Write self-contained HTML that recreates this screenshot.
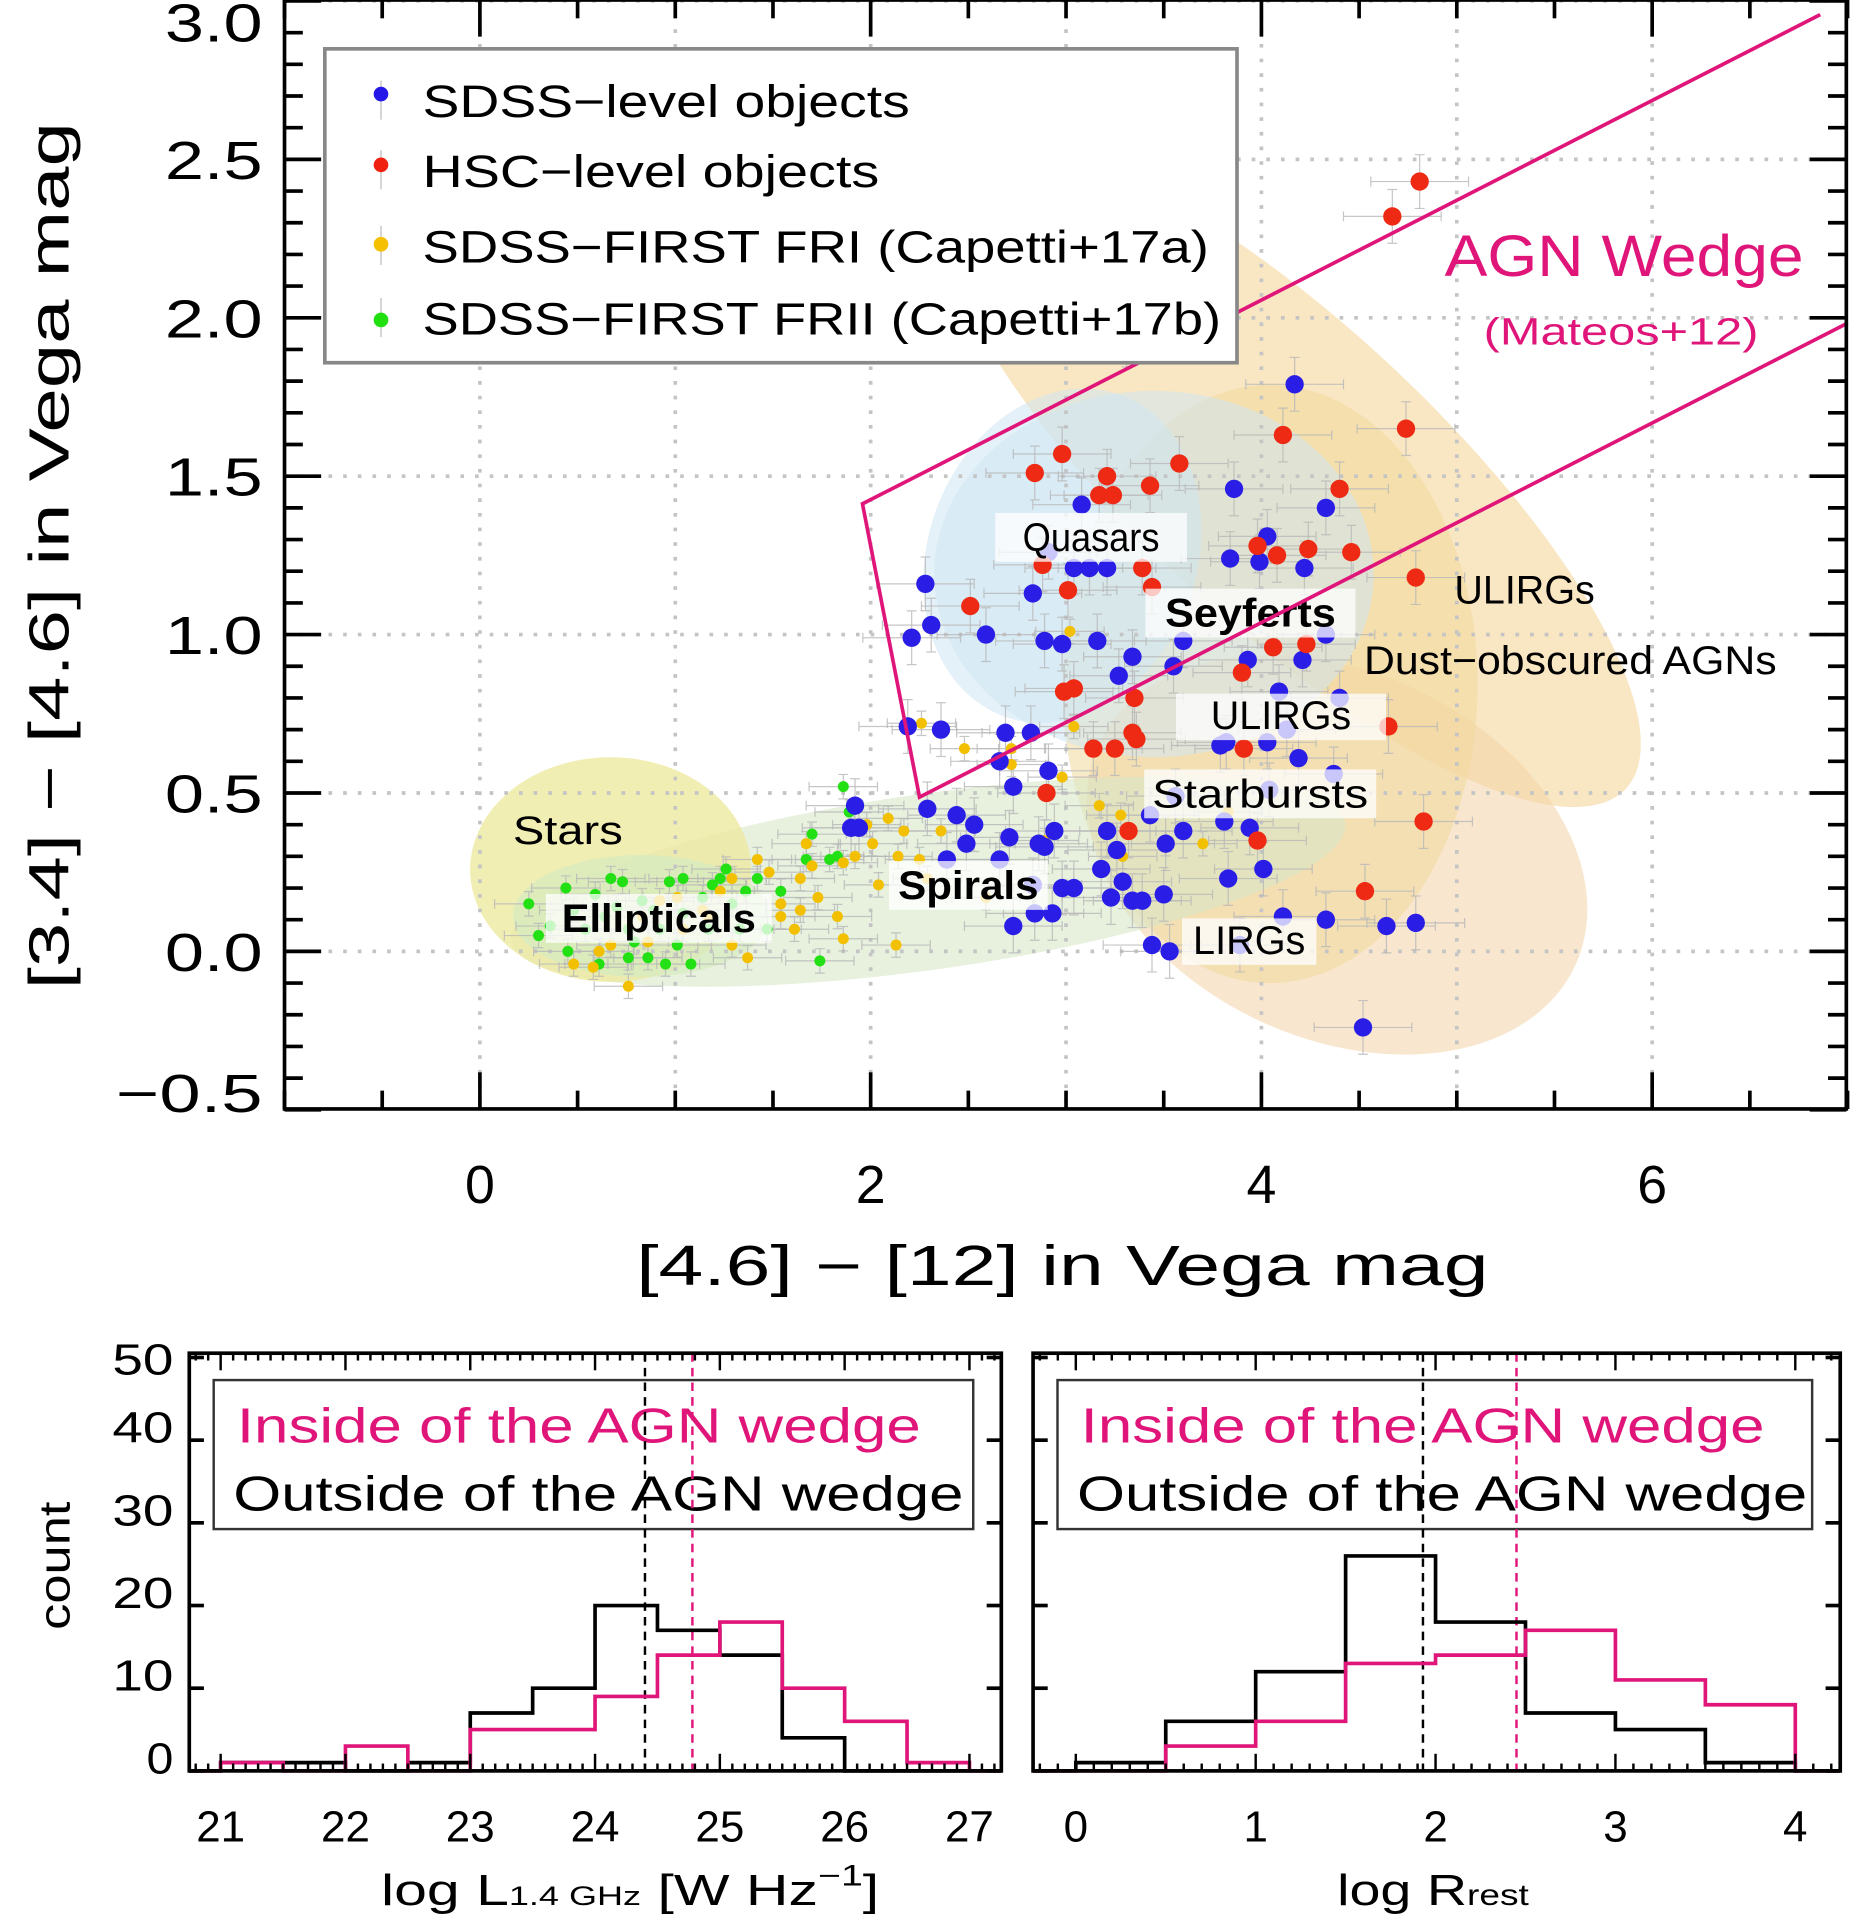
<!DOCTYPE html>
<html><head><meta charset="utf-8"><style>
html,body{margin:0;padding:0;background:#fff}
svg{display:block}
text{font-family:"Liberation Sans",sans-serif}
</style></head><body>
<svg id="fig" width="1850" height="1915" viewBox="0 0 1515 1568" preserveAspectRatio="none" xmlns="http://www.w3.org/2000/svg">
<g id="bgshapes">
 <ellipse cx="1055" cy="388" rx="378" ry="122" transform="rotate(43 1055 388)" fill="#f2c77a" opacity="0.45"/>
 <ellipse cx="1095" cy="700" rx="215" ry="150" transform="rotate(25 1095 700)" fill="#f2d3a5" opacity="0.55"/>
 <ellipse cx="1040" cy="560" rx="170" ry="245" fill="#f0d89a" opacity="0.55"/>
 <ellipse cx="760" cy="722" rx="345" ry="72" transform="rotate(-8 760 722)" fill="#d7e8c8" opacity="0.6"/>
 <ellipse cx="500" cy="712" rx="115" ry="92" fill="#eeeaa0" opacity="0.8"/>
 <ellipse cx="525" cy="750" rx="105" ry="50" fill="#d6ebc0" opacity="0.7"/>
 <ellipse cx="945" cy="470" rx="180" ry="150" fill="#cfe6f2" opacity="0.55"/>
 <ellipse cx="870" cy="455" rx="110" ry="140" transform="rotate(20 870 455)" fill="#cfe6f2" opacity="0.55"/>
</g>
<g id="grid"></g>
<g id="errs"></g>
<g id="pts"></g>
<g id="labels"></g>
<g id="wedge"></g>
<g id="axes"></g>
<g id="legend">
 <rect x="266" y="40" width="747" height="257" fill="#fff" stroke="#888" stroke-width="3"/>
 <line x1="312" y1="66" x2="312" y2="98" stroke="#bbb"/><circle cx="312" cy="77" r="6" fill="#2418e8"/>
 <text x="346" y="96" font-size="37" textLength="399" lengthAdjust="spacingAndGlyphs">SDSS−level objects</text>
 <line x1="312" y1="123" x2="312" y2="155" stroke="#bbb"/><circle cx="312" cy="135" r="6" fill="#f02010"/>
 <text x="346" y="153" font-size="37" textLength="374" lengthAdjust="spacingAndGlyphs">HSC−level objects</text>
 <line x1="312" y1="185" x2="312" y2="217" stroke="#bbb"/><circle cx="312" cy="200" r="6" fill="#f4c000"/>
 <text x="346" y="215" font-size="37" textLength="644" lengthAdjust="spacingAndGlyphs">SDSS−FIRST FRI (Capetti+17a)</text>
 <line x1="312" y1="244" x2="312" y2="276" stroke="#bbb"/><circle cx="312" cy="262" r="6" fill="#20e010"/>
 <text x="346" y="274" font-size="37" textLength="654" lengthAdjust="spacingAndGlyphs">SDSS−FIRST FRII (Capetti+17b)</text>
</g>
<text x="1183" y="226" font-size="48" fill="#e0157a" textLength="294" lengthAdjust="spacingAndGlyphs">AGN Wedge</text>
<text x="1215" y="282" font-size="31" fill="#e0157a" textLength="225" lengthAdjust="spacingAndGlyphs">(Mateos+12)</text>
<text transform="translate(56 455) rotate(-90)" text-anchor="middle" font-size="46" textLength="710" lengthAdjust="spacingAndGlyphs">[3.4] − [4.6] in Vega mag</text>
<text x="870" y="1052" text-anchor="middle" font-size="46" textLength="698" lengthAdjust="spacingAndGlyphs">[4.6] − [12] in Vega mag</text>
<g id="hist"></g>
</svg>
<script>
// ---- main scatter data ----
const blueX=[2.28,2.21,2.31,2.59,2.83,2.91,3.08,3.04,3.12,3.21,2.89,2.98,3.16,3.27,3.34,3.55,3.60,3.93,3.86,4.03,3.99,3.84,4.33,4.22,4.17,4.21,4.40,3.82,4.03,4.13,4.19,4.37,4.33,2.19,2.36,2.69,2.82,2.66,2.91,2.73,2.89,3.04,3.18,3.26,3.21,3.29,3.50,3.34,3.39,3.23,2.98,2.73,2.84,2.93,3.44,3.53,3.83,4.01,4.04,3.94,4.11,4.33,4.64,4.79,4.52,1.92,1.94,1.90,2.29,2.44,2.53,2.49,2.71,2.86,2.94,2.66,2.39,3.56,3.60,3.81,3.51,3.43,2.83,3.89,4.09,3.79];
const blueY=[1.16,0.99,1.03,1.00,1.13,1.26,1.41,1.21,1.21,1.21,0.98,0.97,0.98,0.87,0.93,0.90,0.98,0.92,1.46,1.31,1.23,1.24,1.40,1.21,1.79,0.92,0.80,0.66,0.66,0.70,0.61,0.56,1.00,0.71,0.70,0.69,0.69,0.60,0.57,0.52,0.33,0.20,0.26,0.32,0.38,0.22,0.18,0.16,0.16,0.17,0.20,0.08,0.12,0.12,0.02,0.00,0.23,0.26,0.51,0.39,0.11,0.10,0.08,0.09,-0.24,0.46,0.39,0.39,0.45,0.43,0.40,0.34,0.36,0.34,0.38,0.29,0.29,0.49,0.38,0.41,0.34,0.43,0.21,0.02,0.82,0.65];
const redX=[4.81,4.67,3.39,3.59,3.34,3.31,4.11,4.74,4.40,4.46,4.79,2.84,2.98,3.21,3.24,3.17,3.43,3.58,3.98,4.08,4.24,4.06,3.90,4.23,2.51,2.88,3.01,3.39,3.44,3.04,2.99,3.35,3.14,3.25,3.34,3.36,3.91,4.65,2.90,3.32,3.98,4.53,4.83];
const redY=[2.43,2.32,2.11,2.15,1.94,1.93,1.63,1.65,1.46,1.26,1.18,1.51,1.57,1.50,1.44,1.44,1.47,1.54,1.28,1.25,1.27,0.96,0.88,0.97,1.09,1.22,1.14,1.21,1.15,0.83,0.82,0.80,0.64,0.64,0.69,0.67,0.64,0.71,0.50,0.38,0.35,0.19,0.41];
const friX=[0.58,0.76,0.61,0.86,1.04,1.17,1.29,1.37,1.54,1.64,1.73,1.86,1.67,1.70,1.64,1.92,1.98,2.01,2.14,2.13,1.83,2.04,2.17,2.36,2.48,2.72,2.72,2.89,2.98,3.02,3.04,3.28,3.29,3.51,3.70,3.83,2.26,2.25,1.54,1.29,1.48,1.14,0.92,0.48,0.67,0.83,1.01,1.23,1.42,1.86,2.09,1.61,2.29,2.59,3.17];
const friY=[-0.05,-0.11,0.00,0.03,0.07,0.11,0.02,-0.02,0.11,0.13,0.17,0.04,0.34,0.27,0.23,0.30,0.40,0.34,0.30,0.02,0.11,0.21,0.38,0.38,0.64,0.64,0.59,0.35,0.55,1.01,0.71,0.43,0.30,0.34,0.34,0.44,0.72,0.29,0.15,0.23,0.25,0.13,0.16,-0.04,0.02,0.11,0.17,0.19,0.29,0.28,0.42,0.07,0.23,0.17,0.46];
const friiX=[0.25,0.30,0.45,0.54,0.59,0.64,0.70,0.73,0.76,0.79,0.86,0.92,0.97,1.01,1.04,1.08,1.14,1.19,1.23,1.26,1.29,1.36,1.42,1.47,1.54,1.67,1.70,1.74,1.83,1.86,1.89,1.79,0.44,0.48,0.67,0.83,0.89,1.04,0.36,0.61,0.76,0.95,1.17,1.33];
const friiY=[0.15,0.05,0.00,0.07,0.18,0.11,0.14,0.22,0.07,0.03,-0.02,0.07,0.22,0.02,0.12,-0.04,0.17,0.21,0.23,0.26,0.15,0.19,0.23,0.07,0.19,0.29,0.37,-0.03,0.30,0.52,0.44,0.29,0.20,0.13,0.23,0.16,0.13,0.23,0.08,-0.04,-0.02,-0.04,0.07,0.07];
const xTicks=[0,2,4,6];
const yTicks=[-0.5,0.0,0.5,1.0,1.5,2.0,2.5,3.0];
// Mateos+12 wedge: upper y=0.315x+0.796, lower y=0.315x-0.222, side y=-3.172x+7.624
const wedgeSlope=0.315, wedgeUpper=0.796, wedgeLower=-0.222, sideSlope=-3.172, sideInt=7.624;
// ---- histogram data ----
const lumEdges=[21,21.5,22,22.5,23,23.5,24,24.5,25,25.5,26,26.5,27];
const lumOutside=[1,1,0,1,7,10,20,17,14,4,0,0];
const lumInside=[1,0,3,0,5,5,9,14,18,10,6,1];
const lumMedOut=24.40, lumMedIn=24.78;
const rEdges=[0,0.5,1,1.5,2,2.5,3,3.5,4];
const rOutside=[1,6,12,26,18,7,5,1];
const rInside=[0,3,6,13,14,17,11,8];
const rMedOut=1.93, rMedIn=2.45;
const lumTicks=[21,22,23,24,25,26,27];
const rTicks=[0,1,2,3,4];
const countTicks=[0,10,20,30,40,50];

const NS="http://www.w3.org/2000/svg";
function el(tag,attrs,parent,txt){const e=document.createElementNS(NS,tag);for(const k in attrs)e.setAttribute(k,attrs[k]);if(txt!==undefined)e.textContent=txt;parent.appendChild(e);return e;}
const X=v=>393+160*v, Y=v=>779-259.4*v;
const L=233,R=1512,T=0,B=908;

// grid
const grid=document.getElementById('grid');
for(let v=0;v<=6;v++){el('line',{x1:X(v),x2:X(v),y1:T,y2:B,stroke:'#c4c4c4','stroke-width':3,'stroke-dasharray':'3 9'},grid);}
for(let v=0;v<=3.0;v+=0.5){el('line',{x1:L,x2:R,y1:Y(v),y2:Y(v),stroke:'#c4c4c4','stroke-width':3,'stroke-dasharray':'3 9'},grid);}

// points
const errs=document.getElementById('errs'), pts=document.getElementById('pts');
function series(xs,ys,col,r,ex,ey,name){
 for(let i=0;i<xs.length;i++){
  const cx=X(xs[i]),cy=Y(ys[i]);
  el('path',{d:`M${cx-ex} ${cy}H${cx+ex}M${cx} ${cy-ey}V${cy+ey}M${cx-ex} ${cy-4}v8M${cx+ex} ${cy-4}v8M${cx-4} ${cy-ey}h8M${cx-4} ${cy+ey}h8`,stroke:'#b8b8b8','stroke-width':1,fill:'none',opacity:0.8},errs);
  const c=el('circle',{cx:cx,cy:cy,r:r,fill:col},pts);
  
  
 }
}
series(friiX,friiY,'#22e014',4.5,28,10,'frii-point');
series(friX,friY,'#f2c000',4.5,28,10,'fri-point');
series(blueX,blueY,'#2a1ee6',7.5,40,22,'sdss-point');
series(redX,redY,'#ee2a14',7.5,40,22,'hsc-point');

// labels
const labs=document.getElementById('labels');
function lab(t,x,y,w,h,bold,box,tl,name){
 if(box)el('rect',{x:x,y:y,width:w,height:h,fill:'#fff',opacity:0.75},labs);
 const e=el('text',{x:x+(box?w/2:0),y:y+h-9,'font-size':33,'text-anchor':box?'middle':'start','font-weight':bold?'bold':'normal',textLength:tl,lengthAdjust:'spacingAndGlyphs'},labs,t);
 
 
}
lab('Quasars',815,420,157,40,false,true,112,'quasars-label');
lab('Seyferts',938,482,172,40,true,true,140,'seyferts-label');
lab('ULIRGs',963,568,172,38,false,true,115,'ulirgs-label');
lab('Starbursts',937,630,190,40,false,true,177,'starbursts-label');
lab('Spirals',728,705,130,40,true,true,115,'spirals-label');
lab('Ellipticals',447,732,185,40,true,true,159,'ellipticals-label');
lab('LIRGs',968,752,110,38,false,true,92,'lirgs-label');
lab('Stars',420,660,0,40,false,false,90,'stars-label');
lab('ULIRGs',1191,463,0,40,false,false,115,'ulirgs-label-2');
lab('Dust−obscured AGNs',1117,521,0,40,false,false,338,'dust-obscured-label');

// wedge
const wg=document.getElementById('wedge');
const xa=(sideInt-wedgeUpper)/(wedgeSlope-sideSlope), xb=(sideInt-wedgeLower)/(wedgeSlope-sideSlope);
const xe=6.86;
el('path',{d:`M${X(xe)} ${Y(wedgeSlope*xe+wedgeUpper)}L${X(xa)} ${Y(wedgeSlope*xa+wedgeUpper)}L${X(xb)} ${Y(wedgeSlope*xb+wedgeLower)}L${X(7)} ${Y(wedgeSlope*7+wedgeLower)}`,stroke:'#e0157a','stroke-width':3,fill:'none'},wg);

// axes
const ax=document.getElementById('axes');
el('rect',{x:L,y:T,width:R-L,height:B-T,fill:'none',stroke:'#000','stroke-width':3},ax);
for(let v=-1;v<=7.001;v+=0.5){const maj=Math.abs(v/2-Math.round(v/2))<1e-6;const len=maj?30:15;
 el('line',{x1:X(v),x2:X(v),y1:B,y2:B-len,stroke:'#000','stroke-width':3},ax);
 el('line',{x1:X(v),x2:X(v),y1:T,y2:T+len,stroke:'#000','stroke-width':3},ax);}
for(let i=-5;i<=30;i++){const v=i/10;const maj=i%5===0;const len=maj?30:15;
 el('line',{x1:L,x2:L+len,y1:Y(v),y2:Y(v),stroke:'#000','stroke-width':3},ax);
 el('line',{x1:R,x2:R-len,y1:Y(v),y2:Y(v),stroke:'#000','stroke-width':3},ax);}
xTicks.forEach(v=>{const t=el('text',{x:X(v),y:985,'text-anchor':'middle','font-size':44},ax,String(v));});
yTicks.forEach(v=>{const yy=Math.max(Y(v),18)+16;const t=el('text',{x:215,y:v===-0.5?Y(v)+2:yy,'text-anchor':'end','font-size':44,textLength:v<0?120:80,lengthAdjust:'spacingAndGlyphs'},ax,(v<0?'−':'')+Math.abs(v).toFixed(1));});

// histograms
const hg=document.getElementById('hist');
const HY=c=>1450-6.77*c;
function panel(x0,x1,sx,edges,outside,inside,medOut,medIn,ticks,minorStart,minorEnd,name){
 const g=el('g',{},hg);
 const top=1108,bot=1450;
 el('rect',{x:x0+20,y:1130,width:x1-x0-43,height:122,fill:'#fff',stroke:'#333','stroke-width':2},g);
 el('text',{x:x0+39,y:1181,'font-size':40,fill:'#e0157a',textLength:560,lengthAdjust:'spacingAndGlyphs'},g,'Inside of the AGN wedge');
 el('text',{x:x0+36,y:1237,'font-size':40,fill:'#000',textLength:598,lengthAdjust:'spacingAndGlyphs'},g,'Outside of the AGN wedge');
 el('line',{x1:sx(medOut),x2:sx(medOut),y1:top,y2:bot,stroke:'#000','stroke-width':2,'stroke-dasharray':'7 5'},g);
 el('line',{x1:sx(medIn),x2:sx(medIn),y1:top,y2:bot,stroke:'#e0157a','stroke-width':2,'stroke-dasharray':'7 5'},g);
 function step(vals,col){
  let d=`M${x0} ${HY(0)}H${sx(edges[0])}`;
  for(let i=0;i<vals.length;i++){d+=`V${HY(vals[i])}H${sx(edges[i+1])}`;}
  d+=`V${HY(0)}H${x1}`;
  el('path',{d:d,stroke:col,'stroke-width':3,fill:'none'},g);
 }
 step(outside,'#000');step(inside,'#e0157a');
 el('rect',{x:x0,y:top,width:x1-x0,height:bot-top,fill:'none',stroke:'#000','stroke-width':3},g);
 for(let v=minorStart;v<=minorEnd+1e-6;v+=0.1){const maj=Math.abs(v-Math.round(v))<1e-6;const len=maj?14:6;
  el('line',{x1:sx(v),x2:sx(v),y1:bot,y2:bot-len,stroke:'#000','stroke-width':2},g);
  el('line',{x1:sx(v),x2:sx(v),y1:top,y2:top+len,stroke:'#000','stroke-width':2},g);}
 countTicks.forEach(c=>{el('line',{x1:x0,x2:x0+12,y1:HY(c),y2:HY(c),stroke:'#000','stroke-width':3},g);el('line',{x1:x1,x2:x1-12,y1:HY(c),y2:HY(c),stroke:'#000','stroke-width':3},g);});
 ticks.forEach(v=>{const t=el('text',{x:sx(v),y:1508,'text-anchor':'middle','font-size':36},g,String(v));});
}
const LX=v=>180.7+102.2*(v-21), RX=v=>881+147.3*v;
panel(155,820,LX,lumEdges,lumOutside,lumInside,lumMedOut,lumMedIn,lumTicks,20.8,27.2,'luminosity-histogram');
panel(846,1507,RX,rEdges,rOutside,rInside,rMedOut,rMedIn,rTicks,-0.2,4.2,'rloudness-histogram');
countTicks.forEach(c=>{const t=el('text',{x:142,y:HY(c)+(c===50?14:2),'text-anchor':'end','font-size':36,textLength:c===0?22:50,lengthAdjust:'spacingAndGlyphs'},hg,String(c));});
const ct=el('text',{transform:'translate(57 1282) rotate(-90)','text-anchor':'middle','font-size':36,textLength:105,lengthAdjust:'spacingAndGlyphs'},hg,'count');

const t1=el('text',{x:312,y:1560,'font-size':36,textLength:408,lengthAdjust:'spacingAndGlyphs'},hg);

t1.innerHTML='log L<tspan font-size="22">1.4 GHz</tspan><tspan> [W Hz</tspan><tspan font-size="24" dy="-16">−1</tspan><tspan dy="16">]</tspan>';
const t2=el('text',{x:1095,y:1560,'font-size':36,textLength:157,lengthAdjust:'spacingAndGlyphs'},hg);

t2.innerHTML='log R<tspan font-size="24">rest</tspan>';
</script>
</body></html>
